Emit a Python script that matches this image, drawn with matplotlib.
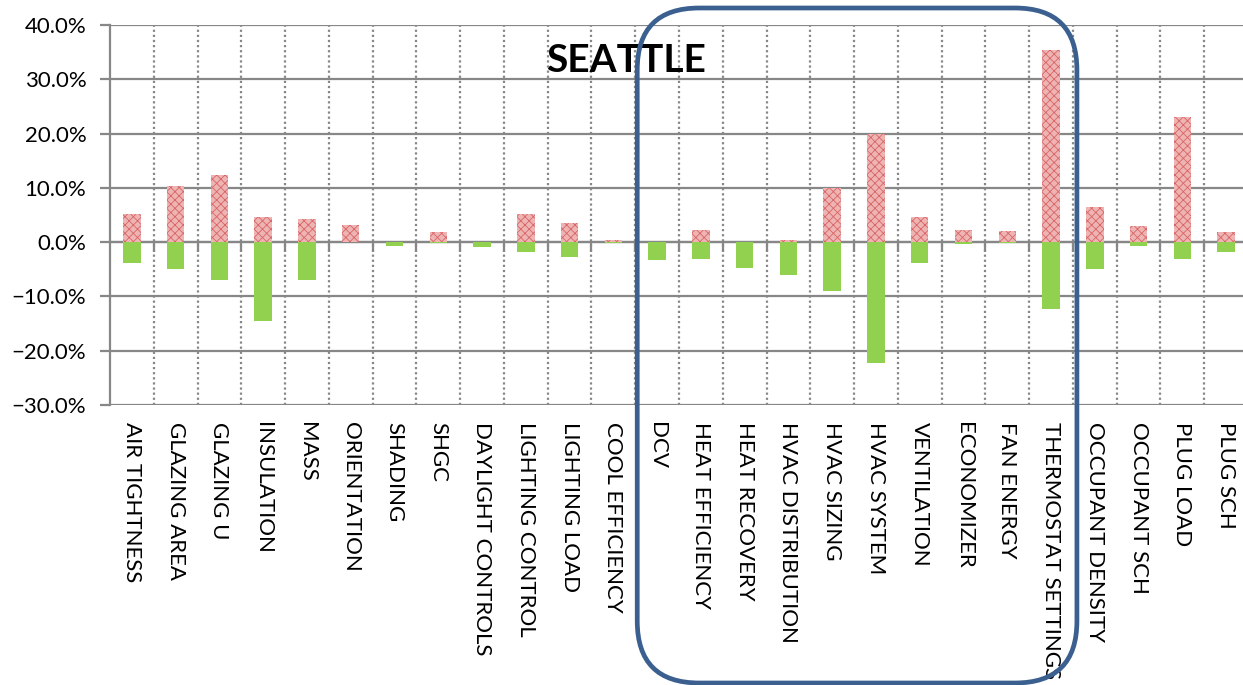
import numpy as np
import matplotlib
matplotlib.use("Agg")
import matplotlib.pyplot as plt
from matplotlib.patches import FancyBboxPatch
from matplotlib.transforms import IdentityTransform, blended_transform_factory
from matplotlib.ticker import PercentFormatter

plt.rcParams['font.family'] = ['Lato', 'DejaVu Sans']
plt.rcParams['hatch.linewidth'] = 0.6

# Parameters and their sensitivity (fraction of baseline)
params = ['AIR TIGHTNESS', 'GLAZING AREA', 'GLAZING U', 'INSULATION', 'MASS',
          'ORIENTATION', 'SHADING', 'SHGC', 'DAYLIGHT CONTROLS', 'LIGHTING CONTROL',
          'LIGHTING LOAD', 'COOL EFFICIENCY', 'DCV', 'HEAT EFFICIENCY',
          'HEAT RECOVERY', 'HVAC DISTRIBUTION', 'HVAC SIZING', 'HVAC SYSTEM',
          'VENTILATION', 'ECONOMIZER', 'FAN ENERGY', 'THERMOSTAT SETTINGS',
          'OCCUPANT DENSITY', 'OCCUPANT SCH', 'PLUG LOAD', 'PLUG SCH']
increase = [0.052, 0.104, 0.123, 0.047, 0.042, 0.031, 0.0, 0.018, 0.0, 0.051,
            0.035, 0.004, 0.0, 0.023, 0.0, 0.004, 0.100, 0.200, 0.047, 0.023,
            0.020, 0.354, 0.064, 0.030, 0.230, 0.018]
decrease = [-0.038, -0.050, -0.070, -0.145, -0.070, 0.0, -0.007, -0.001, -0.009,
            -0.019, -0.027, -0.002, -0.032, -0.031, -0.048, -0.060, -0.090,
            -0.222, -0.039, -0.003, -0.001, -0.123, -0.050, -0.007, -0.031, -0.019]
# group of HVAC parameters highlighted with a frame
hvac_first, hvac_last = 'DCV', 'THERMOSTAT SETTINGS'

W, H = 1243, 685
fig = plt.figure(figsize=(W / 100, H / 100), dpi=100)
ax = fig.add_axes([110 / W, 1 - 405 / H, 1138 / W, 380 / H])

x = np.arange(len(params))
ax.bar(x, increase, width=0.4, facecolor='#eeb4b4', edgecolor='#d86464',
       hatch='xxxx', linewidth=0, zorder=5)
ax.bar(x, decrease, width=0.4, color='#92d050', linewidth=0, zorder=5)

ax.set_xlim(-0.5, len(params) - 0.5)
ax.set_ylim(-0.3, 0.4)
ax.set_yticks(np.arange(-0.3, 0.41, 0.1))
ax.yaxis.set_major_formatter(PercentFormatter(1.0, decimals=1))

grey = '#878787'
ax.set_xticks(x[:-1] + 0.5)
ax.set_xticklabels([])
ax.grid(axis='y', color=grey, linewidth=1.6, zorder=1)
ax.grid(axis='x', color=grey, linewidth=1.6, linestyle=(0, (1, 1.3)), zorder=1)
ax.spines['bottom'].set_position(('data', 0))
ax.spines['bottom'].set_color(grey)
ax.spines['bottom'].set_linewidth(1.6)
ax.spines['bottom'].set_zorder(4)
ax.spines['left'].set_color(grey)
ax.spines['left'].set_linewidth(1.6)
for side in ('top', 'right'):
    ax.spines[side].set_visible(False)
ax.tick_params(axis='x', direction='out', length=7, width=1.6, color=grey)
ax.tick_params(axis='y', direction='out', length=7, width=1.6, color=grey,
               labelsize=16, pad=10)

# category names hang below the plot, rotated
trans = blended_transform_factory(ax.transData, ax.transAxes)
for xi, name in zip(x, params):
    ax.text(xi, -0.045, name, transform=trans, rotation=-90, ha='center',
            va='top', fontsize=16)

fig.text(626 / W, 1 - 60 / H, 'SEATTLE', ha='center', va='center',
         fontsize=28, fontweight='bold')

# rounded frame around the HVAC group
i0 = params.index(hvac_first) - 0.5
i1 = params.index(hvac_last) + 0.5
px0 = ax.transData.transform((i0, 0))[0]
px1 = ax.transData.transform((i1, 0))[0]
frame = FancyBboxPatch((px0 + 2, 2), px1 - px0 + 2, H - 10,
                       boxstyle='round,pad=0,rounding_size=62',
                       transform=IdentityTransform(), fill=False,
                       edgecolor='#3b6090', linewidth=3.4, zorder=10)
fig.add_artist(frame)

fig.savefig('out.png', dpi=100)
